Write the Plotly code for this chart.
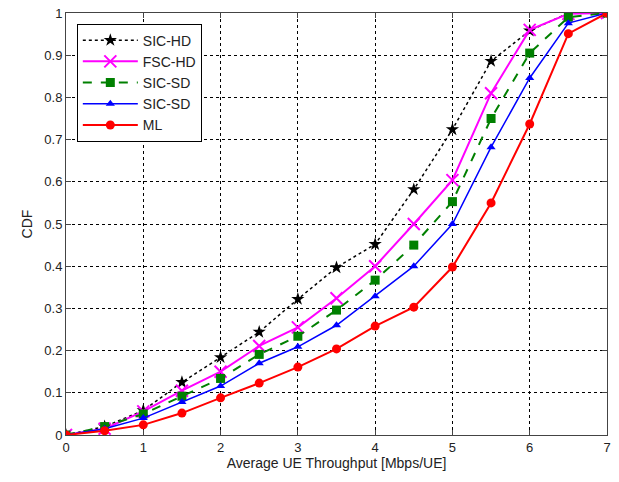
import plotly.graph_objects as go

x_vals = [0, 0.5, 1, 1.5, 2, 2.5, 3, 3.5, 4, 4.5, 5, 5.5, 6, 6.5, 7]
sic_hd = [0, 0.02, 0.058, 0.125, 0.184, 0.244, 0.322, 0.397, 0.452, 0.582, 0.724, 0.886, 0.958, 1.0, 1.0]
fsc_hd = [0, 0.015, 0.056, 0.105, 0.15, 0.211, 0.255, 0.324, 0.4, 0.5, 0.604, 0.81, 0.96, 0.998, 1.0]
sic_sd_g = [0, 0.02, 0.05, 0.092, 0.134, 0.191, 0.234, 0.296, 0.367, 0.45, 0.553, 0.75, 0.905, 0.99, 1.0]
sic_sd_b = [0, 0.015, 0.04, 0.078, 0.116, 0.17, 0.209, 0.26, 0.329, 0.4, 0.5, 0.682, 0.846, 0.976, 1.0]
ml = [0, 0.01, 0.024, 0.052, 0.088, 0.123, 0.161, 0.204, 0.258, 0.303, 0.398, 0.55, 0.737, 0.951, 1.0]

names = ["SIC-HD", "FSC-HD", "SIC-SD", "SIC-SD", "ML"]
x_ticks = [0, 1, 2, 3, 4, 5, 6, 7]
y_ticks = [0, 0.1, 0.2, 0.3, 0.4, 0.5, 0.6, 0.7, 0.8, 0.9, 1]
y_tick_text = ["0", "0.1", "0.2", "0.3", "0.4", "0.5", "0.6", "0.7", "0.8", "0.9", "1"]

series = [sic_hd, fsc_hd, sic_sd_g, sic_sd_b, ml]
styles = [
    dict(color="black", dash="dot", width=1.5, symbol="star", size=10, lw=0),
    dict(color="#ff00ff", dash="solid", width=2, symbol="x-thin-open", size=12, lw=2),
    dict(color="#008000", dash="dash", width=2, symbol="square", size=9, lw=0),
    dict(color="#0000ff", dash="solid", width=1.5, symbol="triangle-up", size=8, lw=0),
    dict(color="#ff0000", dash="solid", width=2, symbol="circle", size=9, lw=0),
]

fig = go.Figure()
for name, ys, st in zip(names, series, styles):
    fig.add_trace(go.Scatter(
        x=x_vals, y=ys, name=name, mode="lines+markers",
        line=dict(color=st["color"], dash=st["dash"], width=st["width"]),
        marker=dict(symbol=st["symbol"], size=st["size"], color=st["color"],
                    line=dict(color=st["color"], width=st["lw"])),
    ))

axis_common = dict(
    showline=True, linecolor="#444", linewidth=1, mirror="ticks",
    ticks="inside", ticklen=5, tickcolor="#444",
    showgrid=True, gridcolor="black", gridwidth=1, griddash="3px,3px",
    zeroline=False, automargin=False,
    tickfont=dict(family="Liberation Sans, Arial", size=13, color="#222"),
)

fig.update_xaxes(range=[0, 7], tickvals=x_ticks,
                 title=dict(text="Average UE Throughput [Mbps/UE]", standoff=4,
                            font=dict(family="Liberation Sans, Arial", size=14, color="#222")),
                 **axis_common)
fig.update_yaxes(range=[0, 1], tickvals=y_ticks, ticktext=y_tick_text,
                 title=dict(text="CDF", standoff=8,
                            font=dict(family="Liberation Sans, Arial", size=14, color="#222")),
                 **axis_common)

fig.update_layout(
    width=619, height=482,
    margin=dict(l=66, r=12, t=13, b=47),
    paper_bgcolor="white", plot_bgcolor="white",
    showlegend=True,
    legend=dict(x=0.02, y=0.975, xanchor="left", yanchor="top",
                bgcolor="white", bordercolor="black", borderwidth=1,
                font=dict(family="Liberation Sans, Arial", size=14, color="#222"),
                tracegroupgap=0, itemwidth=55),
)

fig.write_html("out.html",
               config={"displayModeBar": False},
               post_script="document.body.style.margin='0px';document.body.style.overflow='hidden';")
